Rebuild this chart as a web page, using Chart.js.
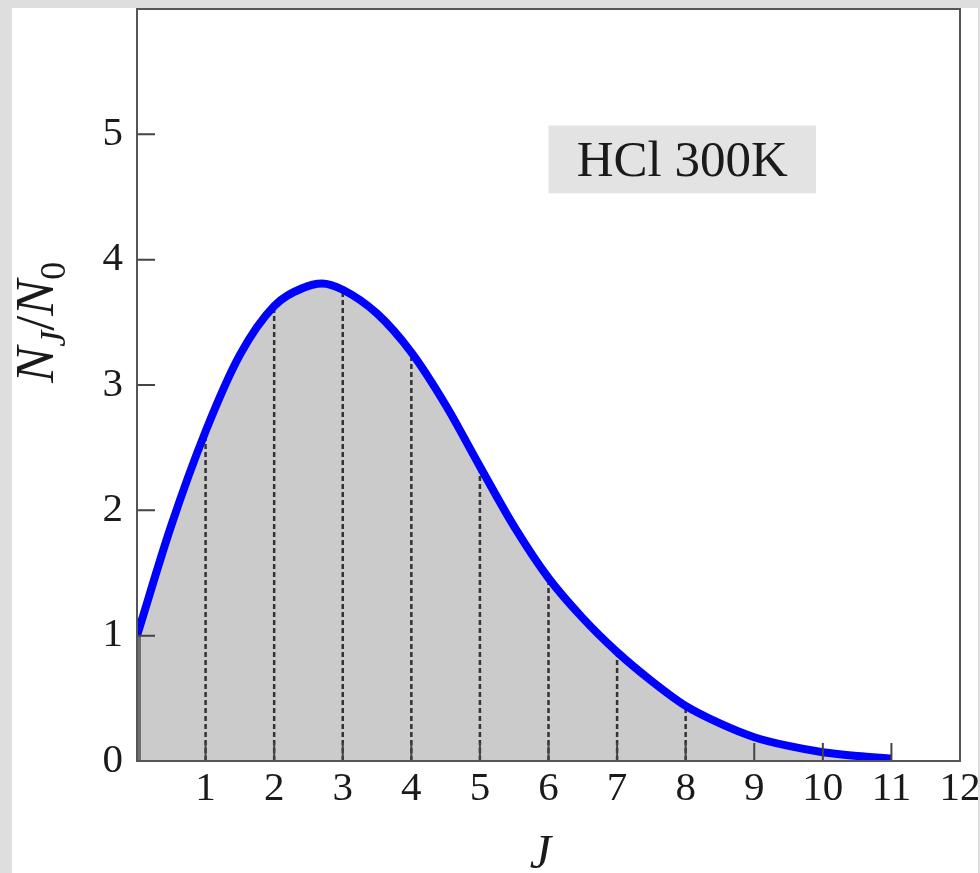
<!DOCTYPE html>
<html>
<head>
<meta charset="utf-8">
<script src="https://cdn.jsdelivr.net/npm/chart.js@4"></script>
<style>
  html, body { margin: 0; padding: 0; }
  body { width: 980px; height: 873px; background: #dedede; position: relative; overflow: hidden; }
  #wrap { position: absolute; left: 12px; top: 8px; width: 966px; height: 865px; background: #fff; }
</style>
</head>
<body>
<div id="wrap"><canvas id="chart" width="966" height="865"></canvas></div>
<script>
// rotational level populations
const jValues    = [0, 0.5, 1, 1.5, 2, 2.4, 2.7, 3, 3.5, 4, 4.5, 5, 5.5, 6, 6.5, 7, 7.5, 8, 8.5, 9, 9.5, 10, 10.5, 11];
const population = [1.0, 1.88, 2.63, 3.24, 3.63, 3.77, 3.81, 3.76, 3.57, 3.26, 2.84, 2.35, 1.87, 1.46, 1.14, 0.87, 0.64, 0.44, 0.30, 0.19, 0.12, 0.07, 0.04, 0.02];
const dashedJ    = [1, 2, 3, 4, 5, 6, 7, 8];
const xRange     = [0, 12];
const yRange     = [0, 6];
const labelText  = 'HCl 300K';

const serif = '"Liberation Serif", "Times New Roman", serif';

const curvePoints = jValues.map((j, i) => ({ x: j, y: population[i] }));

// one dashed dataset per level, from the axis up to the curve
const dashSets = dashedJ.map(j => {
    const v = population[jValues.indexOf(j)];
    return {
        data: [{ x: j, y: 0 }, { x: j, y: v }],
        borderColor: '#333',
        borderWidth: 2.5,
        borderDash: [5, 3],
        pointRadius: 0,
        fill: false,
        order: 2
    };
});

// darker edge of the filled area at J = 0
const edgeSet = {
    data: [{ x: jValues[0], y: 0 }, { x: jValues[0], y: population[0] }],
    borderColor: '#707070',
    borderWidth: 8,
    pointRadius: 0,
    fill: false,
    order: 2
};

const framePlugin = {
    id: 'frame',
    afterDatasetsDraw(chart) {
        const ctx = chart.ctx;
        const area = chart.chartArea;
        const xs = chart.scales.x;
        const ys = chart.scales.y;
        ctx.save();

        // inward tick marks
        ctx.strokeStyle = '#444';
        ctx.lineWidth = 2;
        ctx.beginPath();
        xs.ticks.forEach(t => {
            if (t.value <= xRange[0] || t.value >= xRange[1]) return;
            const px = xs.getPixelForValue(t.value);
            ctx.moveTo(px, area.bottom);
            ctx.lineTo(px, area.bottom - 18);
        });
        ys.ticks.forEach(t => {
            if (t.value <= yRange[0] || t.value >= yRange[1]) return;
            const py = ys.getPixelForValue(t.value);
            ctx.moveTo(area.left, py);
            ctx.lineTo(area.left + 18, py);
        });
        ctx.stroke();

        // plot box
        ctx.strokeStyle = '#555';
        ctx.strokeRect(area.left, area.top, area.right - area.left, area.bottom - area.top);

        // label box
        const bx0 = xs.getPixelForValue(6.0), bx1 = xs.getPixelForValue(9.9);
        const by0 = ys.getPixelForValue(5.07), by1 = ys.getPixelForValue(4.53);
        ctx.fillStyle = '#e3e3e3';
        ctx.fillRect(bx0, by0, bx1 - bx0, by1 - by0);
        ctx.fillStyle = '#1a1a1a';
        ctx.font = '51px ' + serif;
        ctx.textAlign = 'center';
        ctx.textBaseline = 'alphabetic';
        ctx.fillText(labelText, (bx0 + bx1) / 2, ys.getPixelForValue(4.67));

        // x axis title
        ctx.font = 'italic 48px ' + serif;
        ctx.fillText('J', (area.left + area.right) / 2 - 8, area.bottom + 107);

        // y axis title N_J / N_0, rotated
        const parts = [
            { t: 'N', f: 'italic 54px ' + serif, dy: 0 },
            { t: 'J', f: 'italic 36px ' + serif, dy: 12 },
            { t: '/', f: '54px ' + serif, dy: 0 },
            { t: 'N', f: 'italic 54px ' + serif, dy: 0 },
            { t: '0', f: '36px ' + serif, dy: 12 }
        ];
        let total = 0;
        parts.forEach(p => { ctx.font = p.f; p.w = ctx.measureText(p.t).width; total += p.w; });
        ctx.translate(area.left - 84, ys.getPixelForValue(3.5));
        ctx.rotate(-Math.PI / 2);
        ctx.textAlign = 'left';
        let cx = -total / 2;
        parts.forEach(p => {
            ctx.font = p.f;
            ctx.fillText(p.t, cx, p.dy);
            cx += p.w;
        });
        ctx.restore();
    }
};

new Chart(document.getElementById('chart'), {
    type: 'line',
    data: {
        datasets: [
            {
                data: curvePoints,
                borderWidth: 0,
                borderColor: 'rgba(0,0,0,0)',
                backgroundColor: '#cbcbcb',
                pointRadius: 0,
                fill: 'origin',
                cubicInterpolationMode: 'monotone',
                order: 3
            },
            ...dashSets,
            edgeSet,
            {
                data: curvePoints,
                borderColor: '#0000ff',
                borderWidth: 8,
                pointRadius: 0,
                fill: false,
                cubicInterpolationMode: 'monotone',
                order: 1
            }
        ]
    },
    options: {
        responsive: false,
        animation: false,
        layout: { padding: { left: 0, top: 1, right: 18, bottom: 0 } },
        plugins: {
            legend: { display: false },
            tooltip: { enabled: false }
        },
        scales: {
            x: {
                type: 'linear',
                min: xRange[0],
                max: xRange[1],
                grid: { display: false },
                border: { display: false },
                ticks: {
                    stepSize: 1,
                    padding: -4,
                    color: '#1a1a1a',
                    font: { family: serif, size: 41 },
                    maxRotation: 0,
                    autoSkip: false,
                    callback: v => (v === 0 ? '' : v)
                },
                afterFit(scale) {
                    scale.height = 112;
                    scale.paddingLeft = 0;
                    scale.paddingRight = 0;
                }
            },
            y: {
                min: yRange[0],
                max: yRange[1],
                grid: { display: false },
                border: { display: false },
                ticks: {
                    stepSize: 1,
                    padding: 6,
                    color: '#1a1a1a',
                    font: { family: serif, size: 41 },
                    callback: v => (v === 6 ? '' : v)
                },
                afterFit(scale) {
                    scale.width = 125;
                    scale.paddingTop = 0;
                    scale.paddingBottom = 0;
                }
            }
        }
    },
    plugins: [framePlugin]
});
</script>
</body>
</html>
